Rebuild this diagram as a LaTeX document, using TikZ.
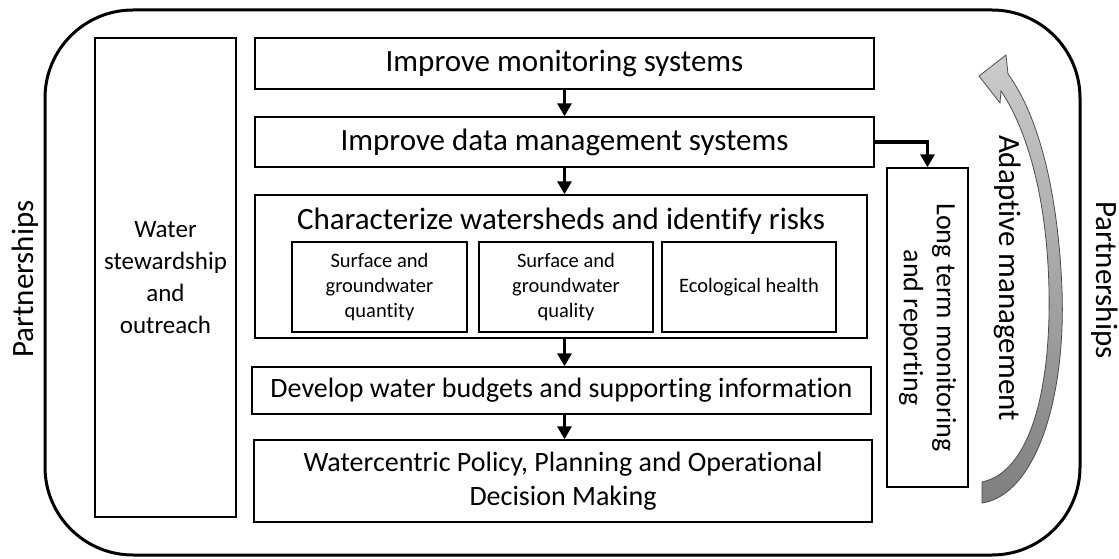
\documentclass[tikz,border=0pt]{standalone}
\usepackage{fontspec}
\setmainfont{Carlito}[Ligatures={NoCommon,NoContextual}]
\usetikzlibrary{arrows.meta}
\begin{document}
\begin{tikzpicture}[x=1pt,y=-1pt,
  box/.style={draw=black, line width=1.4pt, inner sep=0pt, align=center},
  bigtxt/.style={font=\fontsize{31}{38}\selectfont},
  midtxt/.style={font=\fontsize{28}{34}\selectfont},
  smalltxt/.style={font=\fontsize{20.5}{25}\selectfont},
  flow/.style={line width=3.5pt, -{Triangle[length=13pt,width=14pt]}},
]
\useasboundingbox (0,0) rectangle (1119,559);

% outer frame
\draw[line width=3pt, rounded corners=88pt] (45,10) rectangle (1080,555);

% side labels
\node[bigtxt, rotate=90] (pl) at (25,279) {Partnerships};
\node[bigtxt, rotate=-90] (pr) at (1105,280) {Partnerships};

% left column
\node[box, minimum width=141, minimum height=479,
      font=\fontsize{25}{32}\selectfont] (ws) at (165.5,277.5)
      {Water\\stewardship\\and\\outreach};

% main flow
\node[box, bigtxt, minimum width=619, minimum height=51] (mon) at (564.5,63.5)
      {Improve monitoring systems};
\node[box, bigtxt, minimum width=619, minimum height=50] (dat) at (564.5,142)
      {Improve data management systems};
\node[box, minimum width=612, minimum height=143] (chr) at (561,266.5) {};
\node[bigtxt] (chrt) at (561,221) {Characterize watersheds and identify risks};
\node[box, smalltxt, minimum width=175, minimum height=90] (s1) at (379.5,287)
      {Surface and\\groundwater\\quantity};
\node[box, smalltxt, minimum width=174, minimum height=90] (s2) at (566,287)
      {Surface and\\groundwater\\quality};
\node[box, smalltxt, minimum width=174, minimum height=90] (s3) at (749,287)
      {Ecological health};
\node[box, midtxt, minimum width=619, minimum height=47] (dev) at (561.5,390.5)
      {Develop water budgets and supporting information};
\node[box, midtxt, minimum width=618, minimum height=82] (wat) at (563,481)
      {Watercentric Policy, Planning and Operational\\Decision Making};

% long term monitoring
\node[box, minimum width=81, minimum height=319] (lt) at (927.5,327.5) {};
\node[rotate=-90, align=center, font=\fontsize{28}{33}\selectfont] (ltt) at (lt.center)
      {Long term monitoring\\and reporting};

% connectors
\draw[flow] (mon.south) -- (dat.north);
\draw[flow] (dat.south) -- (dat.south |- chr.north);
\draw[flow] (dat.south |- chr.south) -- (dat.south |- dev.north);
\draw[flow] (dat.south |- dev.south) -- (dat.south |- wat.north);
\draw[flow] (dat.east) -| (lt.north);

% adaptive management loop arrow
\shade[top color=black!20, bottom color=black!50, draw=black!70, line width=0.8pt]
  (982,503) .. controls (1035,495) and (1066,400) .. (1062,290)
  .. controls (1058,190) and (1038,115) .. (1008,74)
  -- (1006,55) -- (979,76) -- (1000,103) -- (1001,91)
  .. controls (1026,128) and (1047,195) .. (1049,290)
  .. controls (1051,390) and (1030,472) .. (982,482) -- cycle;
\node[bigtxt, rotate=-90] (am) at (1008,278) {Adaptive management};
\end{tikzpicture}
\end{document}
